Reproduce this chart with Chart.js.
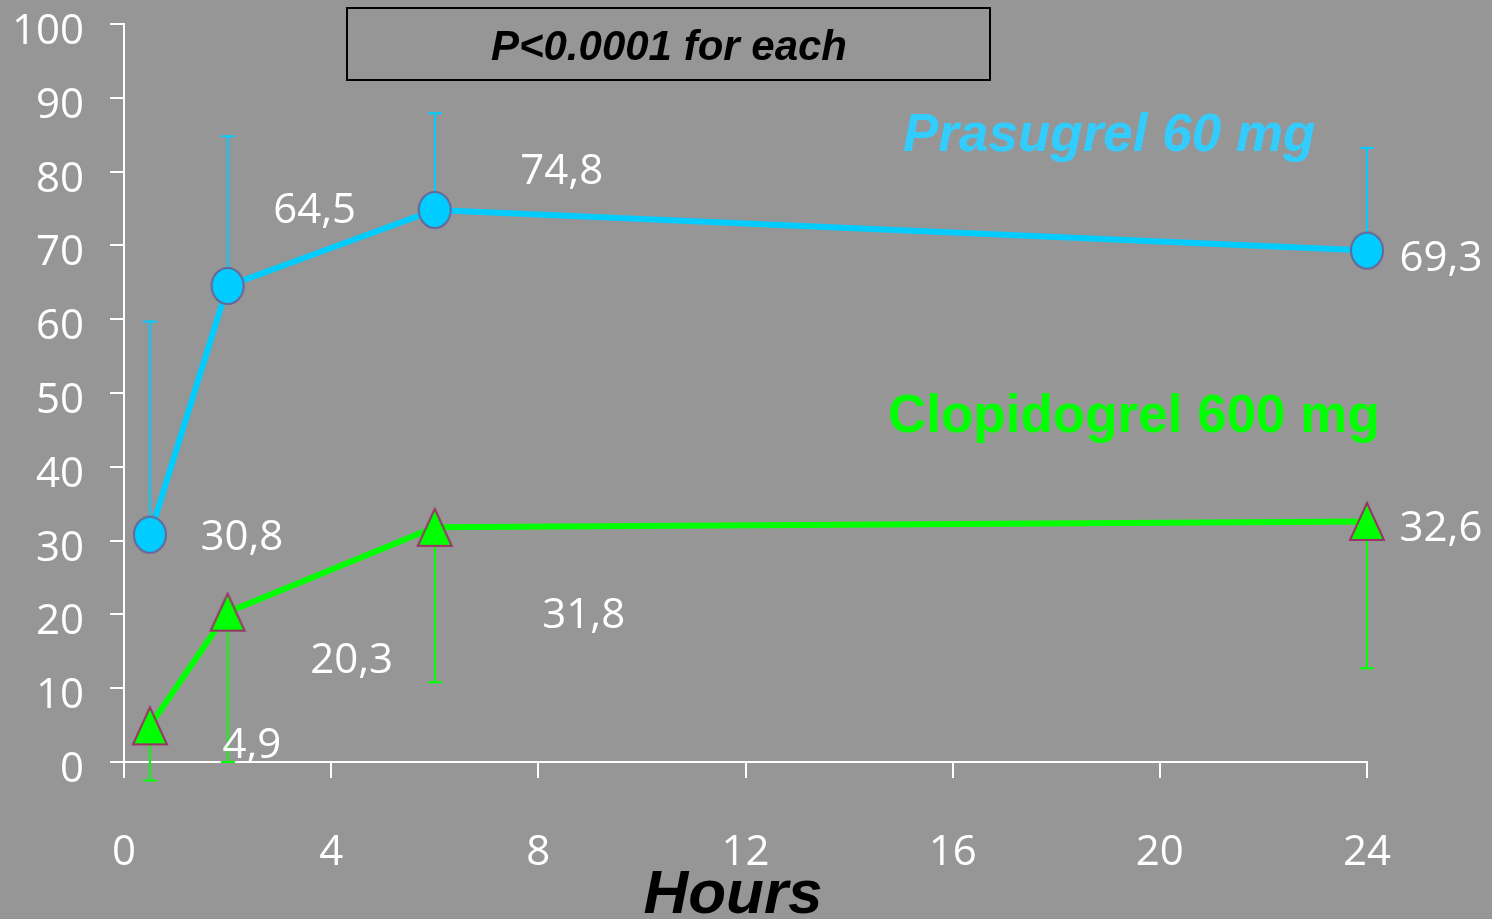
<!DOCTYPE html>
<html>
<head>
<meta charset="utf-8">
<script src="https://cdn.jsdelivr.net/npm/chart.js@4/dist/chart.umd.min.js"></script>
<style>
  html, body { margin: 0; padding: 0; background: #969696; }
  canvas { display: block; }
</style>
</head>
<body>
<canvas id="chart" width="1492" height="919"></canvas>
<script>
// Sampling times (hours after loading dose)
const hours = [0.5, 2, 6, 24];

// Prasugrel 60 mg: mean values and upper error bounds
const prasugrel = [30.8, 64.5, 74.8, 69.3];
const prasugrelUpper = [59.7, 84.8, 87.9, 83.2];

// Clopidogrel 600 mg: mean values and lower error bounds
const clopidogrel = [4.9, 20.3, 31.8, 32.6];
const clopidogrelLower = [-2.5, 0, 10.8, 12.7];

// Axis tick values
const xTickValues = [0, 4, 8, 12, 16, 20, 24];
const yTickValues = [0, 10, 20, 30, 40, 50, 60, 70, 80, 90, 100];

// Text
const seriesNames = ['Prasugrel 60 mg', 'Clopidogrel 600 mg'];
const pValueText = 'P<0.0001 for each';
const xAxisTitle = 'Hours';

// Value label placement (pixel offsets from each point)
const prasugrelLabelOffsets = [[92, 3], [87, -75], [127, -38], [74, 8]];
const clopidogrelLabelOffsets = [[102, 20], [124, 49], [149, 89], [74, 8]];

const CYAN = '#00CCFF';
const GREEN = '#00FF00';

function toPoints(xs, ys) {
  return xs.map((x, i) => ({ x: x, y: ys[i] }));
}
function commaNumber(v) {
  return String(v).replace('.', ',');
}

// Marker images
function ellipseMarker(w, h, fill, stroke, lw) {
  const c = document.createElement('canvas');
  c.width = w + lw * 2; c.height = h + lw * 2;
  const g = c.getContext('2d');
  g.beginPath();
  g.ellipse(c.width / 2, c.height / 2, w / 2, h / 2, 0, 0, Math.PI * 2);
  g.fillStyle = fill; g.fill();
  g.lineWidth = lw; g.strokeStyle = stroke; g.stroke();
  return c;
}
function triangleMarker(w, h, fill, stroke, lw) {
  const c = document.createElement('canvas');
  c.width = w + lw * 2; c.height = h + lw * 2;
  const g = c.getContext('2d');
  g.beginPath();
  g.moveTo(c.width / 2, lw);
  g.lineTo(c.width - lw, c.height - lw);
  g.lineTo(lw, c.height - lw);
  g.closePath();
  g.fillStyle = fill; g.fill();
  g.lineJoin = 'miter';
  g.lineWidth = lw; g.strokeStyle = stroke; g.stroke();
  return c;
}
const circleImg = ellipseMarker(32, 36, CYAN, '#666699', 2);
const triangleImg = triangleMarker(34, 37, GREEN, '#993366', 2);

// Error bars drawn beneath lines and markers
const errorBarPlugin = {
  id: 'errorBars',
  beforeDatasetsDraw(chart) {
    const ctx = chart.ctx;
    const xs = chart.scales.x, ys = chart.scales.y;
    const sets = [
      { vals: prasugrel, bounds: prasugrelUpper, color: CYAN },
      { vals: clopidogrel, bounds: clopidogrelLower, color: GREEN }
    ];
    ctx.save();
    ctx.lineWidth = 2;
    sets.forEach(s => {
      ctx.strokeStyle = s.color;
      hours.forEach((h, i) => {
        const px = Math.round(xs.getPixelForValue(h));
        const y0 = ys.getPixelForValue(s.vals[i]);
        const y1 = ys.getPixelForValue(s.bounds[i]);
        ctx.beginPath();
        ctx.moveTo(px, y0); ctx.lineTo(px, y1);
        ctx.moveTo(px - 7, y1); ctx.lineTo(px + 7, y1);
        ctx.stroke();
      });
    });
    ctx.restore();
  }
};

// Value labels, series names, p-value box and axis title
const annotationPlugin = {
  id: 'annotations',
  afterDatasetsDraw(chart) {
    const ctx = chart.ctx;
    const xs = chart.scales.x, ys = chart.scales.y;
    ctx.save();
    ctx.fillStyle = '#ffffff';
    ctx.font = '42px "Open Sans"';
    ctx.textAlign = 'center';
    ctx.textBaseline = 'middle';
    const groups = [
      { vals: prasugrel, offs: prasugrelLabelOffsets },
      { vals: clopidogrel, offs: clopidogrelLabelOffsets }
    ];
    groups.forEach(g => {
      hours.forEach((h, i) => {
        const px = xs.getPixelForValue(h) + g.offs[i][0];
        const py = ys.getPixelForValue(g.vals[i]) + g.offs[i][1];
        ctx.fillText(commaNumber(g.vals[i]), px, py);
      });
    });

    // Series names
    ctx.textAlign = 'left';
    ctx.textBaseline = 'alphabetic';
    ctx.fillStyle = '#33CCFF';
    ctx.font = 'italic bold 53px "Liberation Sans"';
    ctx.fillText(seriesNames[0], 903, 151);
    ctx.fillStyle = GREEN;
    ctx.font = 'bold 53px "Liberation Sans"';
    ctx.fillText(seriesNames[1], 888, 432);

    // P-value box
    ctx.strokeStyle = '#000000';
    ctx.lineWidth = 2;
    ctx.strokeRect(347, 8, 643, 72);
    ctx.fillStyle = '#000000';
    ctx.font = 'italic bold 42px "Liberation Sans"';
    ctx.textAlign = 'center';
    ctx.fillText(pValueText, 669, 60);

    // Axis title
    ctx.font = 'italic bold 62px "Liberation Sans"';
    ctx.fillText(xAxisTitle, 733, 913);
    ctx.restore();
  }
};

const xTickFont = { family: '"Open Sans"', size: 42, lineHeight: 1 };
// Y labels sit a little below their tick marks: an empty first line of 16px pushes the value down 8px
const yTickFont = { family: '"Open Sans"', size: 42, lineHeight: 16 / 42 };

new Chart(document.getElementById('chart'), {
  type: 'line',
  data: {
    datasets: [
      {
        label: seriesNames[0],
        data: toPoints(hours, prasugrel),
        borderColor: CYAN,
        backgroundColor: CYAN,
        borderWidth: 6,
        tension: 0,
        pointStyle: circleImg,
        pointRadius: 18,
        clip: false
      },
      {
        label: seriesNames[1],
        data: toPoints(hours, clopidogrel),
        borderColor: GREEN,
        backgroundColor: GREEN,
        borderWidth: 6,
        tension: 0,
        pointStyle: triangleImg,
        pointRadius: 18,
        clip: false
      }
    ]
  },
  options: {
    responsive: false,
    animation: false,
    events: [],
    layout: { padding: { top: 20, right: 125, left: 0, bottom: 0 } },
    plugins: {
      legend: { display: false },
      tooltip: { enabled: false },
      title: { display: false }
    },
    scales: {
      x: {
        type: 'linear',
        min: 0,
        max: 24,
        afterBuildTicks: s => { s.ticks = xTickValues.map(v => ({ value: v })); },
        afterFit: s => { s.height = 157; s.paddingLeft = 0; s.paddingRight = 0; },
        grid: { drawOnChartArea: false, drawTicks: true, tickLength: 16, color: '#ffffff', lineWidth: 2 },
        border: { display: true, color: '#ffffff', width: 2 },
        ticks: { color: '#ffffff', font: xTickFont, padding: 54, maxRotation: 0, autoSkip: false }
      },
      y: {
        type: 'linear',
        min: 0,
        max: 100,
        afterBuildTicks: s => { s.ticks = yTickValues.map(v => ({ value: v })); },
        afterFit: s => { s.width = 124; s.paddingTop = 0; s.paddingBottom = 0; },
        grid: { drawOnChartArea: false, drawTicks: true, tickLength: 14, color: '#ffffff', lineWidth: 2 },
        border: { display: true, color: '#ffffff', width: 2 },
        ticks: { color: '#ffffff', font: yTickFont, padding: 26, callback: v => ['', String(v)] }
      }
    }
  },
  plugins: [errorBarPlugin, annotationPlugin]
});
</script>
</body>
</html>
